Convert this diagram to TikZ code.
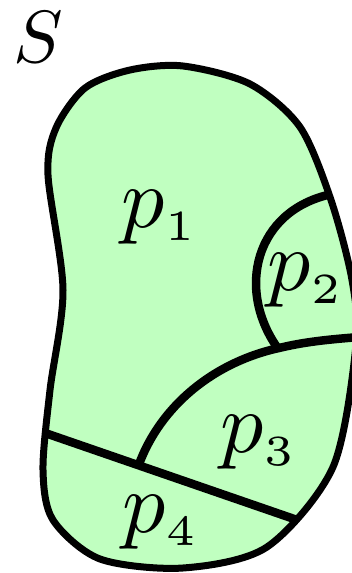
\documentclass[tikz,border=0pt]{standalone}
\definecolor{partgreen}{RGB}{192,255,192}
\begin{document}
\begin{tikzpicture}[x = 1pt, y = -1pt,
	rim/.style = {line width = 7pt},
	cut/.style = {line width = 8.5pt},
	lbl/.style = {inner sep = 0pt, scale = 8.6}]
	\useasboundingbox (0,0) rectangle (351,573);
	% outline of S
	\coordinate (o1) at (183,66);
	\coordinate (o2) at (250,84);
	\coordinate (o3) at (300,127);
	\coordinate (o4) at (331,200);
	\coordinate (o5) at (352,280);
	\coordinate (o6) at (356,345);
	\coordinate (o7) at (333,467);
	\coordinate (o8) at (267,547);
	\coordinate (o9) at (183,568);
	\coordinate (o10) at (100,559);
	\coordinate (o11) at (53,520);
	\coordinate (o12) at (43,470);
	\coordinate (o13) at (50,390);
	\coordinate (o14) at (63,290);
	\coordinate (o15) at (48,175);
	\coordinate (o16) at (56,128);
	\coordinate (o17) at (85,88);
	\coordinate (o18) at (130,70);
	\fill [partgreen] plot [smooth cycle] coordinates {(o1) (o2) (o3) (o4) (o5) (o6) (o7) (o8) (o9) (o10) (o11) (o12) (o13) (o14) (o15) (o16) (o17) (o18)};
	\begin{scope}
	\clip plot [smooth cycle] coordinates {(o1) (o2) (o3) (o4) (o5) (o6) (o7) (o8) (o9) (o10) (o11) (o12) (o13) (o14) (o15) (o16) (o17) (o18)};
	\draw [cut] (351,190) -- (332,194) .. controls (255,210) and (235,290) .. (279,350);
	\draw [cut] (372,336) -- (360,337) .. controls (320,340) and (300,343) .. (279,348) .. controls (215,362) and (160,405) .. (138,467);
	\draw [cut] (19,424) -- (329,531);
	\end{scope}
	\draw [rim] plot [smooth cycle] coordinates {(o1) (o2) (o3) (o4) (o5) (o6) (o7) (o8) (o9) (o10) (o11) (o12) (o13) (o14) (o15) (o16) (o17) (o18)};
	\node [inner sep = 0pt, scale = 7.4] (S) at (38,37) {$S$};
	\node [lbl] (p1) at (160,217) {$p_{\scriptscriptstyle 1}$};
	\node [lbl] (p2) at (306,280) {$p_{\scriptscriptstyle 2}$};
	\node [lbl] (p3) at (259,442) {$p_{\scriptscriptstyle 3}$};
	\node [lbl] (p4) at (161,522) {$p_{\scriptscriptstyle 4}$};
\end{tikzpicture}
\end{document}
